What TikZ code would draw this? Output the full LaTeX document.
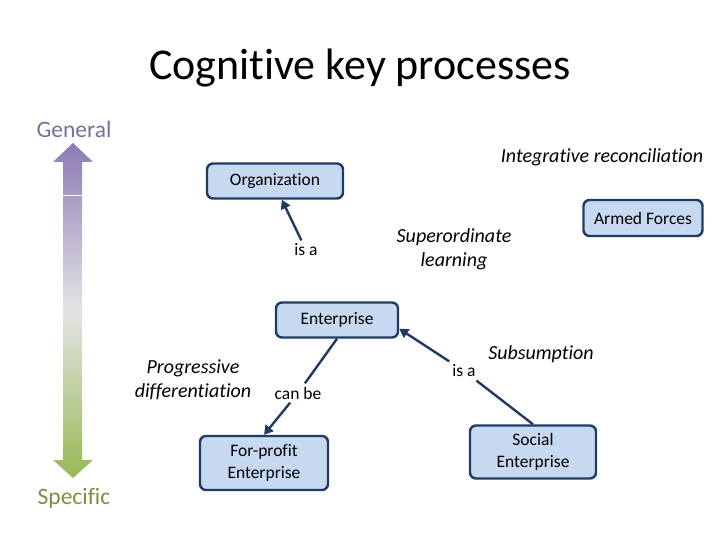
\documentclass[tikz,border=0pt]{standalone}
\usepackage{fontspec}
\setmainfont{Carlito}[Ligatures=NoCommon]
\usepackage{xcolor}
\usetikzlibrary{arrows.meta}

\definecolor{boxfill}{HTML}{C6D9F1}
\definecolor{boxline}{HTML}{1F3B64}
\definecolor{genpurple}{HTML}{7B6C9C}
\definecolor{topviolet}{HTML}{8C7BB4}
\definecolor{midgrey}{HTML}{E4E4E4}
\definecolor{specgreen}{HTML}{76923C}
\definecolor{botgreen}{HTML}{98B954}

\begin{document}
\begin{tikzpicture}[x=1pt, y=-1pt,
            concept/.style = {draw=boxline, line width=2.4pt, fill=boxfill,
                         rounded corners=6pt, align=center,
                         font=\fontsize{17.5}{22}\selectfont},
            linkword/.style = {font=\fontsize{17.5}{20}\selectfont},
            process/.style = {align=center,
                         font=\fontsize{20}{24}\selectfont\itshape},
            every edge/.style = {draw=boxline, line width=2.4pt,
                         -{Triangle[length=9pt, width=10pt]}}
        ]
            \useasboundingbox (0,0) rectangle (720,540);

            \node (title) at (360,68) {\fontsize{44}{50}\selectfont Cognitive key processes};
            \node (general) at (74,129) [text=genpurple, font=\fontsize{23.5}{28}\selectfont] {General};
            \node (specific) at (74,498) [text=specgreen, font=\fontsize{23.5}{28}\selectfont] {Specific};

            % general / specific scale
            \shade[top color=topviolet, bottom color=botgreen, middle color=midgrey]
                (73,143) -- (93,162) -- (82,162) -- (82,460) -- (93,460) -- (73,478)
                -- (53,460) -- (63,460) -- (63,162) -- (53,162) -- cycle;
            \draw[white, line width=1pt] (63,196) -- (82,196);

            \node (organization) at (275,181) [concept, minimum width=136pt, minimum height=35pt] {Organization};
            \node (armed) at (643,218) [concept, minimum width=119pt, minimum height=36pt] {Armed Forces};
            \node (enterprise) at (337,320) [concept, minimum width=122pt, minimum height=35pt] {Enterprise};
            \node (forprofit) at (264,463) [concept, minimum width=128pt, minimum height=54pt] {For-profit\\Enterprise};
            \node (social) at (533,452) [concept, minimum width=126pt, minimum height=53pt] {Social\\Enterprise};

            \node (isa1) at (306,250) [linkword] {is a};
            \node (canbe) at (298,393) [linkword] {can be};
            \node (isa2) at (464,371) [linkword] {is a};

            \node (integrative) at (602,157) [process] {Integrative reconciliation};
            \node (superordinate) at (454,249) [process] {Superordinate\\learning};
            \node (progressive) at (193,380) [process] {Progressive\\differentiation};
            \node (subsumption) at (541,354) [process] {Subsumption};

            %
            \path   (isa1) edge (organization.-70)
                    (enterprise.south) edge[-] (canbe)
                    (canbe) edge (forprofit.north)
                    (social.north) edge[-] (isa2)
                    (isa2) edge (enterprise.-8);
        \end{tikzpicture}
\end{document}
